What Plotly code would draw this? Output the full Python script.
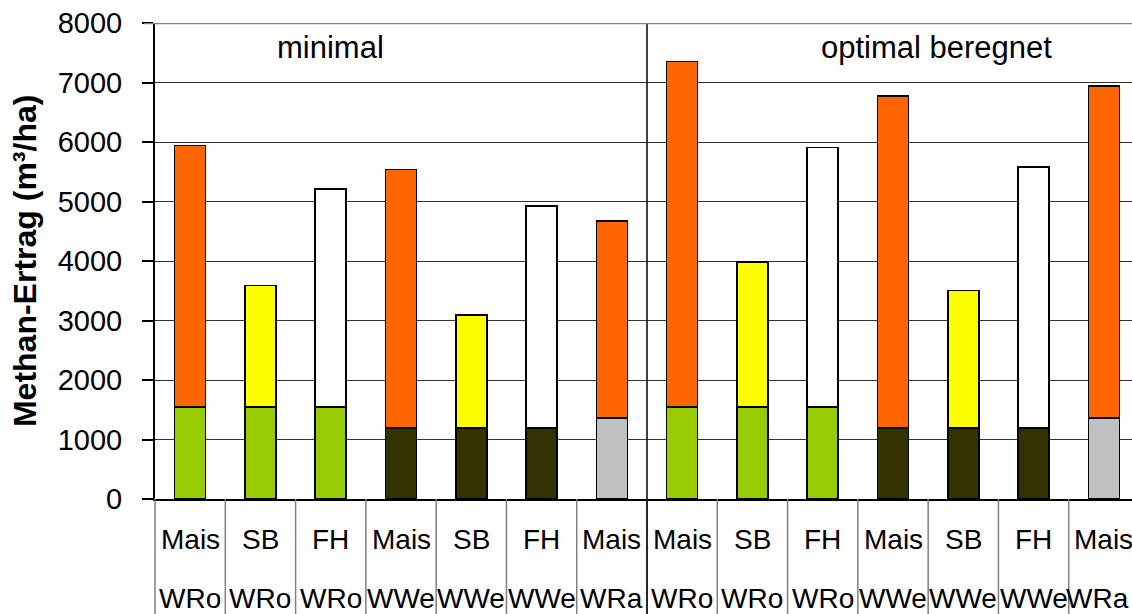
import plotly.graph_objects as go

main_crops = ["Mais", "SB", "FH", "Mais", "SB", "FH", "Mais",
              "Mais", "SB", "FH", "Mais", "SB", "FH", "Mais"]
catch_crops = ["WRo", "WRo", "WRo", "WWe", "WWe", "WWe", "WRa",
               "WRo", "WRo", "WRo", "WWe", "WWe", "WWe", "WRa"]
catch_values = [1550, 1550, 1550, 1190, 1190, 1190, 1366,
                1550, 1550, 1550, 1190, 1190, 1190, 1366]
main_values = [4390, 2035, 3665, 4350, 1905, 3735, 3305,
               5800, 2430, 4355, 5583, 2317, 4385, 5580]
group_labels = ["minimal", "optimal beregnet"]

main_colors = {"Mais": "#FF6600", "SB": "#FFFF00", "FH": "#FFFFFF"}
catch_colors = {"WRo": "#99CC00", "WWe": "#333300", "WRa": "#C0C0C0"}

FONT = "Liberation Sans, Arial, sans-serif"
x = list(range(len(main_crops)))

fig = go.Figure()
fig.add_trace(go.Bar(
    x=x, y=catch_values, width=0.44,
    marker=dict(color=[catch_colors[c] for c in catch_crops],
                line=dict(color="black", width=1.6)),
    showlegend=False, hoverinfo="y"))
fig.add_trace(go.Bar(
    x=x, y=main_values, width=0.44,
    marker=dict(color=[main_colors[c] for c in main_crops],
                line=dict(color="black", width=1.6)),
    showlegend=False, hoverinfo="y"))

shapes = []
# label-table dividers
for i in range(1, len(x)):
    b = i - 0.5
    shapes.append(dict(type="line", xref="x", yref="paper", x0=b, x1=b,
                       y0=0, y1=-0.26,
                       line=dict(color="#808080", width=1.5)))
# group separator
shapes.append(dict(type="line", xref="x", yref="paper", x0=6.5, x1=6.5,
                   y0=1, y1=-0.26, line=dict(color="black", width=1.5)))
# left axis extension into label area
shapes.append(dict(type="line", xref="paper", yref="paper", x0=0, x1=0,
                   y0=0, y1=-0.26, line=dict(color="#808080", width=1.5)))
# top line at 8000
shapes.append(dict(type="line", xref="paper", yref="y", x0=-0.011, x1=1,
                   y0=8000, y1=8000, line=dict(color="#808080", width=2.5)))

annotations = []
last = len(x) - 1
for i, (m, c) in enumerate(zip(main_crops, catch_crops)):
    annotations.append(dict(x=i, y=-0.086, xref="x", yref="paper", text=m,
                            showarrow=False, font=dict(size=28, color="black", family=FONT),
                            xanchor="center", yanchor="middle"))
    if i == last:
        annotations.append(dict(x=0.999, y=-0.209, xref="paper", yref="paper", text=c,
                                showarrow=False, font=dict(size=28, color="black", family=FONT),
                                xanchor="right", yanchor="middle"))
    else:
        annotations.append(dict(x=i, y=-0.209, xref="x", yref="paper", text=c,
                                showarrow=False, font=dict(size=28, color="black", family=FONT),
                                xanchor="center", yanchor="middle"))
annotations.append(dict(x=2.0, y=7590, xref="x", yref="y", text=group_labels[0],
                        showarrow=False, font=dict(size=31, color="black", family=FONT),
                        xanchor="center", yanchor="middle"))
annotations.append(dict(x=10.62, y=7590, xref="x", yref="y", text=group_labels[1],
                        showarrow=False, font=dict(size=31, color="black", family=FONT),
                        xanchor="center", yanchor="middle"))
annotations.append(dict(x=-0.133, y=0.5, xref="paper", yref="paper",
                        text="<b>Methan-Ertrag (m³/ha)</b>", textangle=-90,
                        showarrow=False, font=dict(size=32, color="black", family=FONT),
                        xanchor="center", yanchor="middle"))

fig.update_layout(
    width=1132, height=614,
    margin=dict(l=155, r=0, t=23, b=115),
    paper_bgcolor="white", plot_bgcolor="white",
    barmode="stack",
    font=dict(family=FONT, color="black"),
    shapes=shapes, annotations=annotations,
    xaxis=dict(range=[-0.5, 13.4], showticklabels=False, showgrid=False,
               zeroline=False, showline=True, linecolor="black", linewidth=1.5,
               fixedrange=True),
    yaxis=dict(range=[0, 8000], dtick=1000, showgrid=True, gridcolor="#333333",
               gridwidth=1, zeroline=False, showline=True, linecolor="black",
               linewidth=2, ticks="outside", ticklen=11, tickcolor="black",
               tickwidth=1.5, tickfont=dict(size=29, family=FONT, color="black"),
               ticklabelstandoff=14, fixedrange=True),
)

fig.write_html("out.html")
